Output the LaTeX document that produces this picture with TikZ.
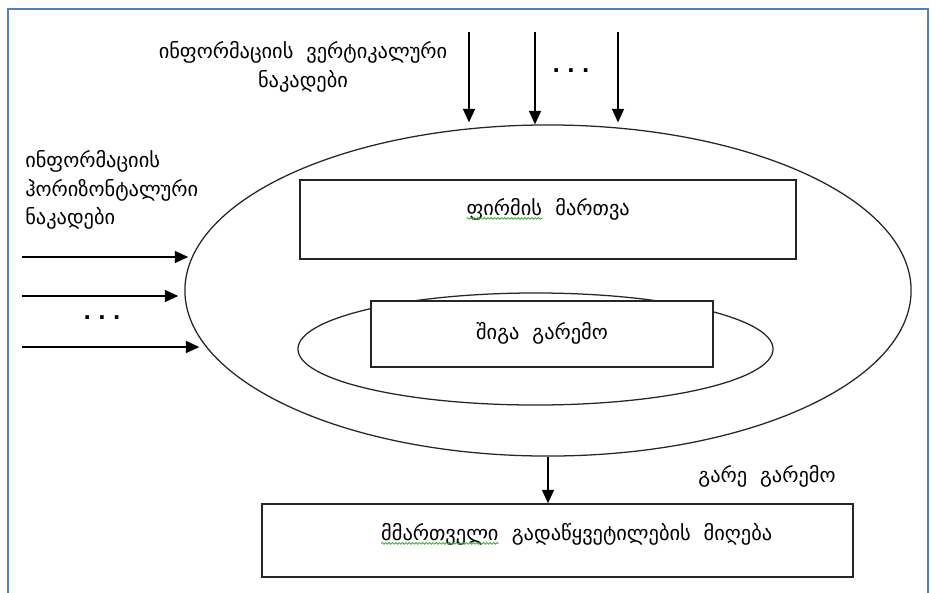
\documentclass[tikz,border=0pt]{standalone}
\usepackage{fontspec}
\setmainfont{DejaVu Sans}
\usepackage{tikz}
\usetikzlibrary{shapes.geometric}
\usetikzlibrary{arrows.meta}
\usetikzlibrary{positioning}
\usetikzlibrary{decorations.pathmorphing}
\definecolor{frameblue}{RGB}{79,129,189}
\definecolor{spellgreen}{RGB}{70,170,60}

% word with a wavy spell-check line under it
\newcommand{\spellmark}[1]{\tikz[baseline=(word.base)]{%
    \node[wordS] (word) {#1};
    \draw[spellS] ([yshift=-2.4pt]word.base west) -- ([yshift=-2.4pt]word.base east);}}

\begin{document}
\begin{tikzpicture}[
        x=0.025cm, y=-0.025cm,
        font=\fontsize{14.5}{20.5}\selectfont,
        defaultS/.style={
            line width=1.1pt,
            draw=black!85,
            align=center,
            inner sep=0pt
        },
        boxS/.style={
        	defaultS,
        	rectangle,
        	fill=white
        },
        ellipseS/.style={
        	defaultS,
        	ellipse,
        	line width=0.9pt
        },
        textS/.style={
            align=center,
            inner sep=0pt
        },
        arrowS/.style={
            line width=1pt,
            -{Triangle[length=9.5pt,width=8.5pt]}
        },
        frameS/.style={
            draw=frameblue,
            line width=1.5pt
        },
        wordS/.style={
            rectangle, draw=none, fill=none,
            inner sep=0pt, outer sep=0pt,
            minimum width=0pt, minimum height=0pt,
            text height=, text depth=
        },
        spellS/.style={
            draw=spellgreen, line width=0.6pt, decorate,
            decoration={snake, amplitude=0.6pt, segment length=2.4pt}
        },
    ]

    \useasboundingbox (0,0) rectangle (931,592);
    \draw[frameS] (8,600) |- (928,9) -- (928,600);

	\node[ellipseS, minimum width=18.15cm, minimum height=8.275cm] (outer) at (548,290.5) {};
	\node[ellipseS, minimum width=11.875cm, minimum height=2.8cm] (inner) at (535.5,349) {};

	\node[boxS, minimum width=12.4cm, text height=0.875cm, text depth=1.1cm] (mgmt) at (548,219.5)
	    {\spellmark{ფირმის}~~მართვა};
	\node[boxS, minimum width=8.55cm, text height=0.95cm, text depth=0.7cm] (intenv) at (542,334)
	    {შიგა~~გარემო};
	\node[boxS, minimum width=14.775cm, text height=0.9cm, text depth=0.925cm] (decide) at (557.5,540.5)
	    {\hspace*{0.95cm}\spellmark{მმართველი}~~გადაწყვეტილების~~მიღება};

	\node[textS] (vtext) at (303,67) {ინფორმაციის~~ვერტიკალური\\ნაკადები};
	\node[textS, align=left, anchor=west] (htext) at (25,190) {ინფორმაციის\\ჰორიზონტალური\\ნაკადები};
	\node[textS] (extenv) at (767,476) {გარე~~გარემო};
	\node[textS] (vdots) at (571,71) {\bfseries .~.~.};
	\node[textS] (hdots) at (102,318) {\bfseries .~.~.};

	% vertical flows
	\coordinate (v1) at (469,32);
	\coordinate (v2) at (535,32);
	\coordinate (v3) at (618,32);
	\draw[arrowS, shorten >=1.4pt] (v1) -- (v1 |- outer.north);
	\draw[arrowS] (v2) -- (v2 |- outer.north);
	\draw[arrowS, shorten >=1.4pt] (v3) -- (v3 |- outer.north);

	% horizontal flows
	\coordinate (h1) at (22,257);
	\coordinate (h2) at (22,296);
	\coordinate (h3) at (22,347);
	\draw[arrowS, shorten >=-2.8pt] (h1) -- (h1 -| outer.west);
	\draw[arrowS, shorten >=4.3pt] (h2) -- (h2 -| outer.west);
	\draw[arrowS, shorten >=-10.7pt] (h3) -- (h3 -| outer.west);

	\draw[arrowS] (outer.south) -- (outer.south |- decide.north);

\end{tikzpicture}
\end{document}
